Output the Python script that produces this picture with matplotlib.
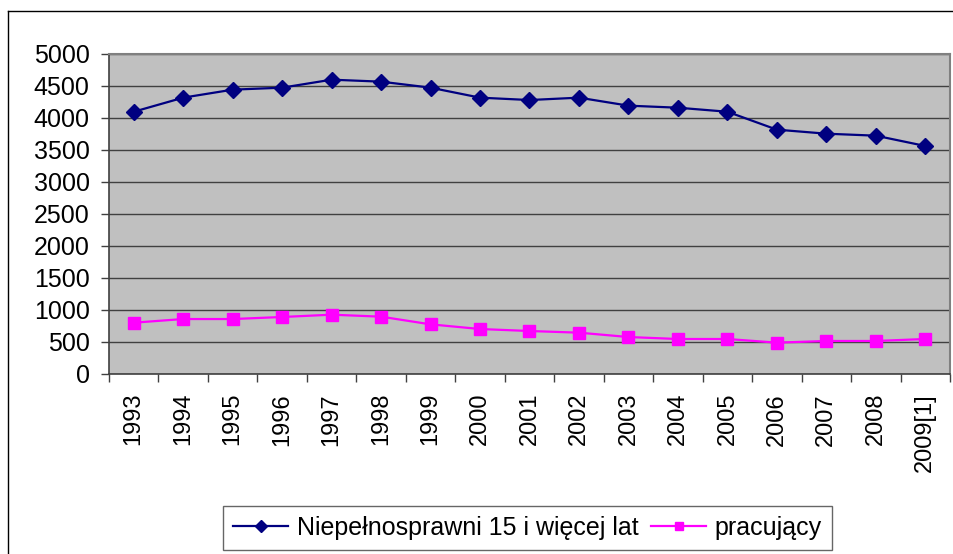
import matplotlib
matplotlib.use("Agg")
import matplotlib.pyplot as plt
from matplotlib.lines import Line2D

plt.rcParams['font.family'] = ['Liberation Sans', 'DejaVu Sans']

years = ["1993", "1994", "1995", "1996", "1997", "1998", "1999", "2000", "2001",
         "2002", "2003", "2004", "2005", "2006", "2007", "2008", "2009[1]"]
niepelnosprawni = [4090, 4310, 4435, 4466, 4591, 4560, 4466, 4310, 4273,
                   4310, 4185, 4153, 4090, 3810, 3747, 3716, 3555]
pracujacy = [794, 851, 851, 883, 919, 888, 768, 695, 664,
             638, 570, 539, 539, 482, 508, 508, 539]
yticks = [0, 500, 1000, 1500, 2000, 2500, 3000, 3500, 4000, 4500, 5000]
label1 = "Niepełnosprawni 15 i więcej lat"
label2 = "pracujący"

W, H = 954, 554
fig = plt.figure(figsize=(W / 100, H / 100), dpi=100)
L, R, T, B = 109, 950, 53.5, 373.5
ax = fig.add_axes([L / W, 1 - B / H, (R - L) / W, (B - T) / H])
ax.set_facecolor('#C0C0C0')

x = list(range(len(years)))
ax.plot(x, niepelnosprawni, color='#000080', lw=1.6, marker='D', markersize=8.5,
        label=label1, zorder=3)
ax.plot(x, pracujacy, color='#FF00FF', lw=1.6, marker='s', markersize=8.5,
        label=label2, zorder=3)

ax.set_xlim(-0.5, len(years) - 0.5)
ax.set_ylim(0, 5000)
ax.set_yticks(yticks)
ax.set_yticklabels([str(v) for v in yticks], fontsize=18)
ax.yaxis.grid(True, color='#404040', lw=1)
ax.set_axisbelow(True)

ax.set_xticks(x)
ax.set_xticklabels(years, rotation=90, fontsize=17)
ax.set_xticks([i - 0.5 for i in range(len(years) + 1)], minor=True)
ax.tick_params(axis='x', which='major', length=0, pad=14)
ax.tick_params(axis='x', which='minor', length=6, width=1, color='#404040', direction='out')
ax.tick_params(axis='y', length=6, width=1, color='#404040', pad=8)

for s in ['left', 'bottom']:
    ax.spines[s].set_color('#404040')
    ax.spines[s].set_linewidth(1.2)
for s in ['top', 'right']:
    ax.spines[s].set_color('#808080')
    ax.spines[s].set_linewidth(1.5)

# outer chart border (left and top visible)
fig.add_artist(Line2D([8 / W, 8 / W], [0, 1 - 11 / H], transform=fig.transFigure, color='black', lw=1))
fig.add_artist(Line2D([8 / W, 1], [1 - 11 / H, 1 - 11 / H], transform=fig.transFigure, color='black', lw=1))

leg = fig.legend(loc='center', bbox_to_anchor=(527.5 / W, 1 - 528 / H), ncol=2,
                 fontsize=18, frameon=True, fancybox=False, edgecolor='#404040',
                 handlelength=2.2, columnspacing=0.5, handletextpad=0.35,
                 borderpad=0.4, markerscale=0.7)
leg.get_frame().set_linewidth(1)

fig.savefig('out.png', dpi=100)
